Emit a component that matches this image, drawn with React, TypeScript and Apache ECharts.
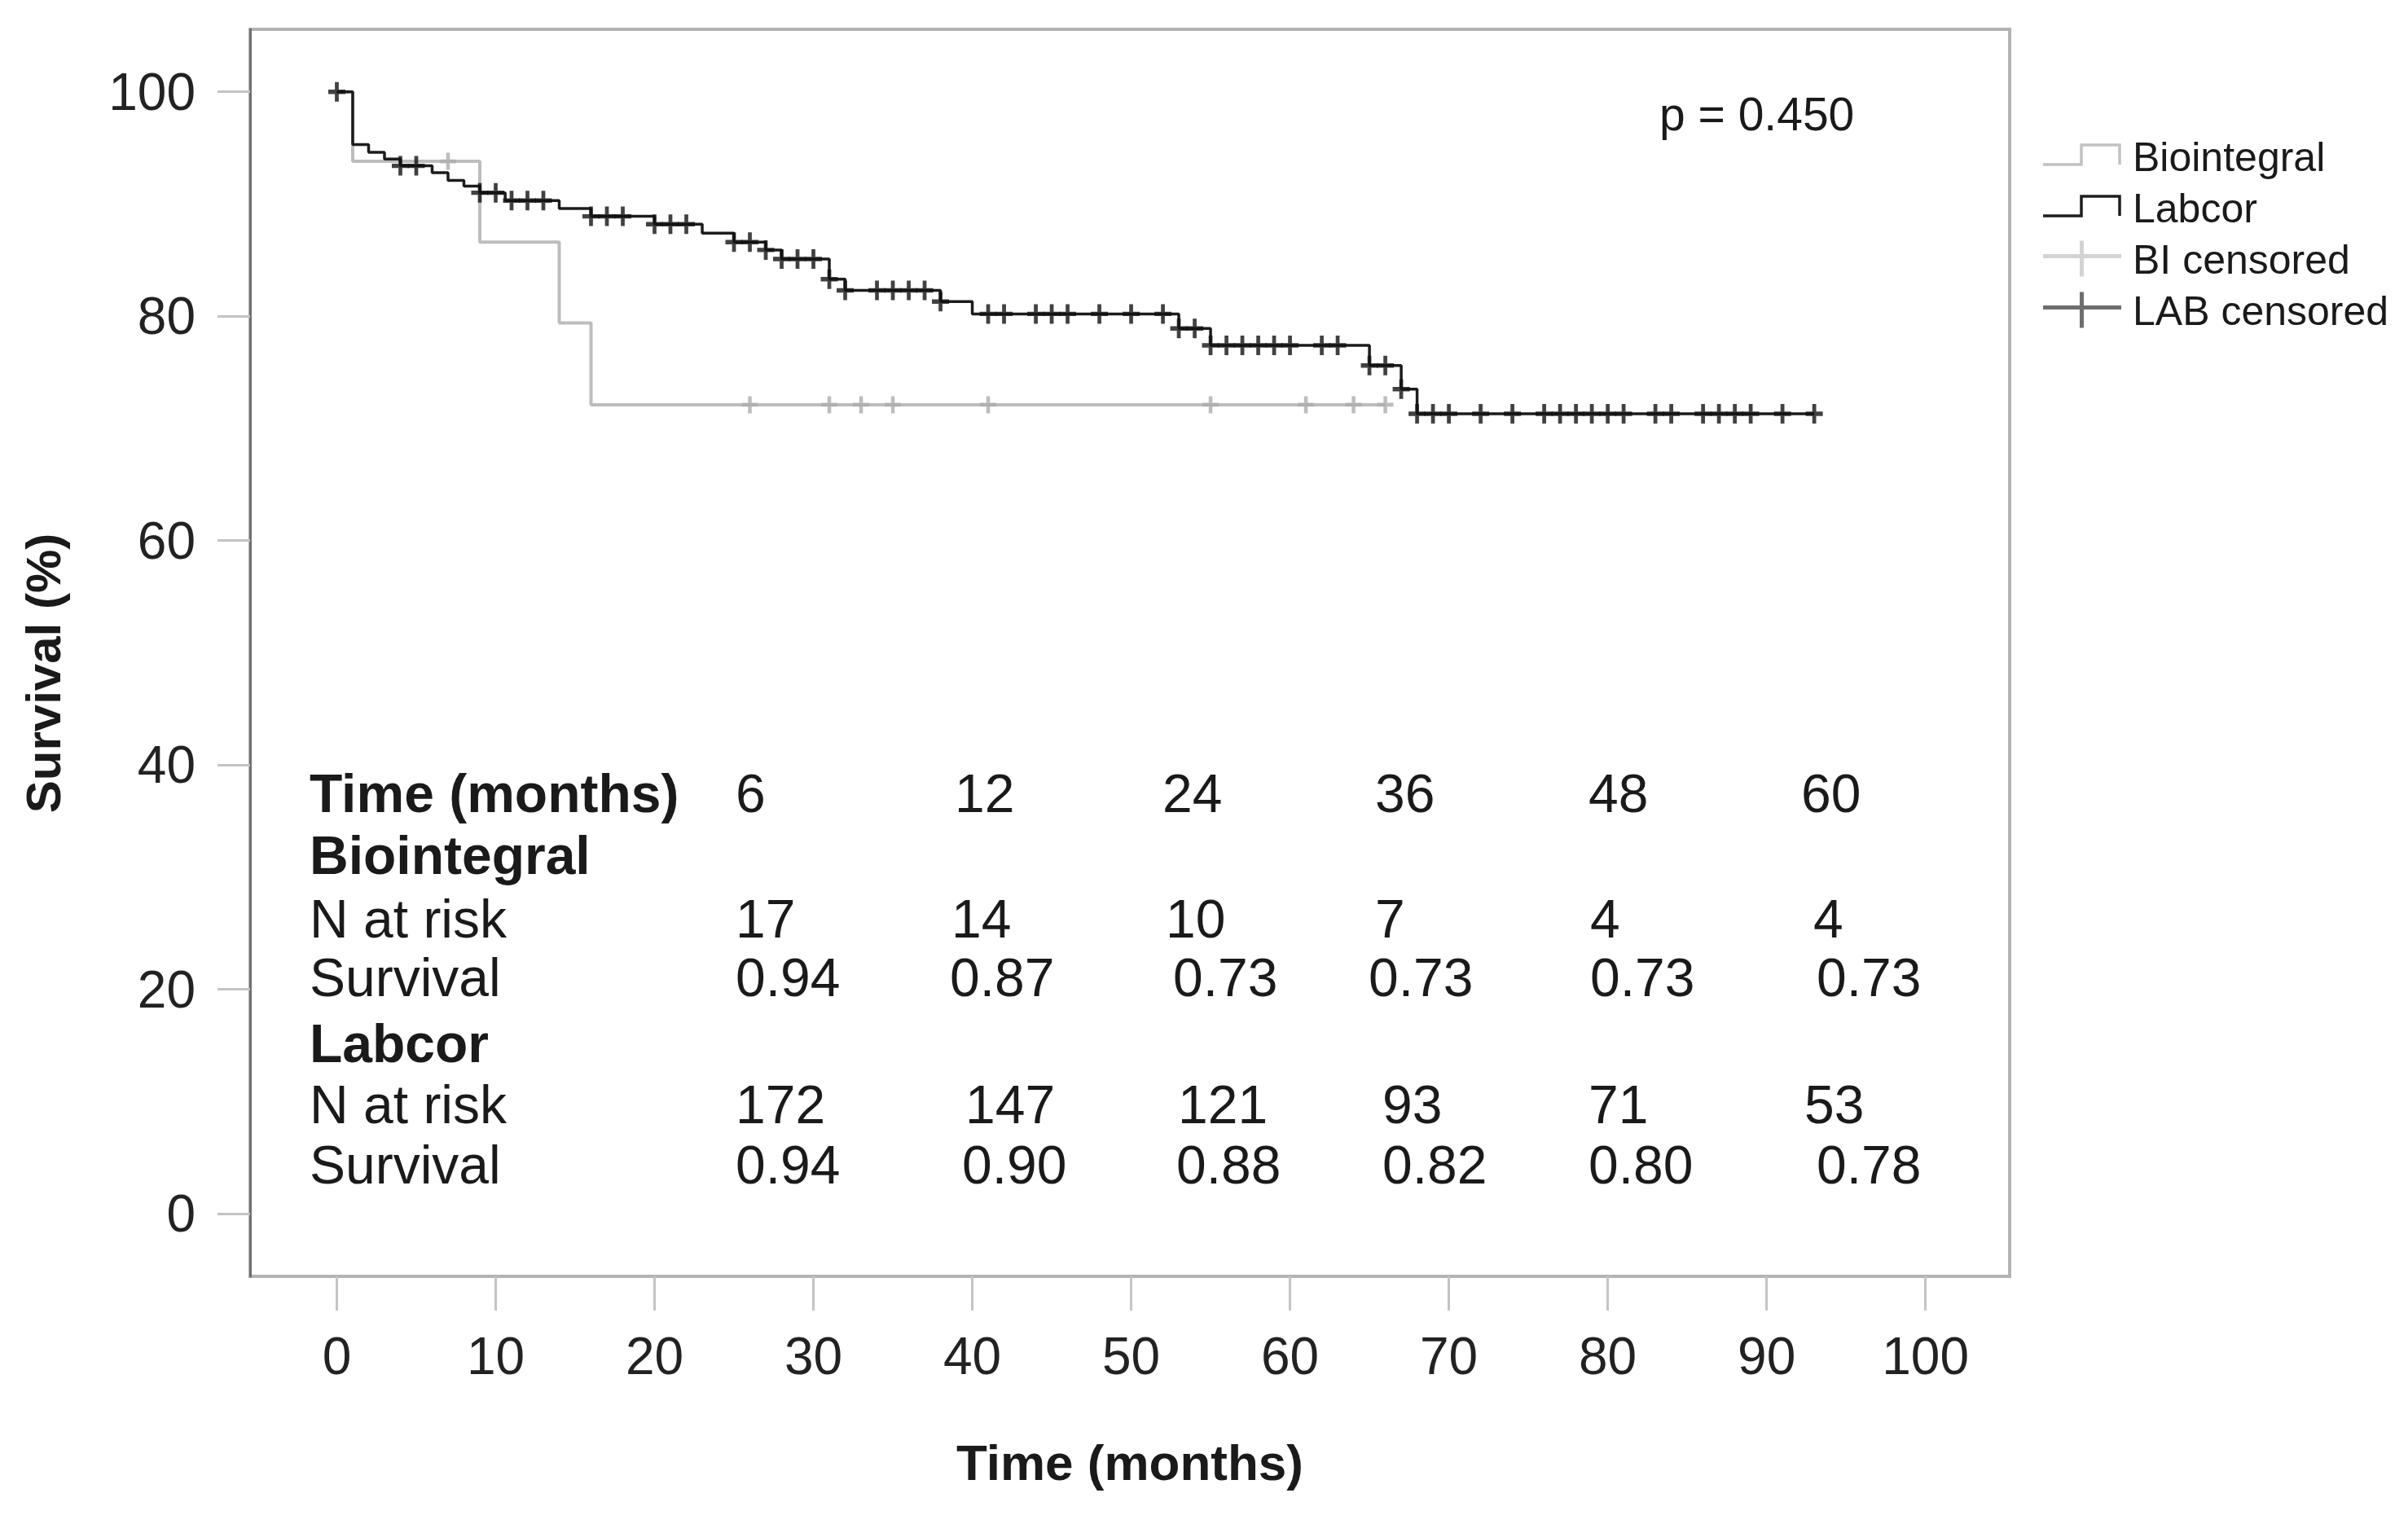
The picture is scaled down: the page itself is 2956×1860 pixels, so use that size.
import React, { useEffect, useRef } from "react";
import * as echarts from "echarts";

// ---------- data ----------
const BIO_TIMES = [0, 1, 9, 14, 16, 66];
const BIO_SURV = [100, 93.8, 86.6, 79.4, 72.1, 72.1];
const BIO_CENSORED = [7, 26, 31, 33, 35, 41, 55, 61, 64, 66];

const LAB_TIMES = [0, 1, 2, 3, 4, 6, 7, 8, 9, 10.6, 14, 16, 20, 23, 25, 27, 28, 31, 32, 38, 40, 53, 55, 65, 67, 68, 93];
const LAB_SURV = [100, 95.3, 94.6, 94.0, 93.4, 92.8, 92.1, 91.6, 91.0, 90.3, 89.6, 88.9, 88.2, 87.4, 86.6, 85.9, 85.1, 83.3, 82.3, 81.3, 80.2, 78.9, 77.4, 75.6, 73.5, 71.3, 71.3];
const LAB_CENSORED = [0, 4, 5, 9, 10, 11, 12, 13, 16, 17, 18, 20, 21, 22, 25, 26, 27, 28, 29, 30, 31, 32, 34, 35, 36, 37, 38, 41, 42, 44, 45, 46, 48, 50, 52, 53, 54, 55, 56, 57, 58, 59, 60, 62, 63, 65, 66, 67, 68, 69, 70, 72, 74, 76, 77, 78, 79, 80, 81, 83, 84, 86, 87, 88, 89, 91, 93];

const X_TICKS = [0, 10, 20, 30, 40, 50, 60, 70, 80, 90, 100];
const Y_TICKS = [0, 20, 40, 60, 80, 100];

const P_VALUE = "p = 0.450";
const TABLE_TIMES = ["6", "12", "24", "36", "48", "60"];
const BIO_RISK = ["17", "14", "10", "7", "4", "4"];
const BIO_TABLE_SURV = ["0.94", "0.87", "0.73", "0.73", "0.73", "0.73"];
const LAB_RISK = ["172", "147", "121", "93", "71", "53"];
const LAB_TABLE_SURV = ["0.94", "0.90", "0.88", "0.82", "0.80", "0.78"];

// ---------- layout ----------
const FONT = "'Liberation Sans', Arial, Helvetica, sans-serif";
const TEXT_COLOR = "#1a1a1a";
const TABLE_LEFT = 380;
const TABLE_FONT = 66;
const TABLE_ROWS_Y = [974, 1050, 1128, 1200, 1281, 1356, 1430];
const COLS_TIME = [903, 1172, 1427, 1688, 1950, 2211];
const COLS_BIO_RISK = [903, 1168, 1431, 1688, 1952, 2226];
const COLS_BIO_SURV = [903, 1166, 1440, 1680, 1952, 2230];
const COLS_LAB_RISK = [903, 1185, 1446, 1697, 1950, 2215];
const COLS_LAB_SURV = [903, 1181, 1444, 1697, 1950, 2230];

const CROSS = "path://M7.75,0H12.25V7.75H20V12.25H12.25V20H7.75V12.25H0V7.75H7.75Z";
const BOX_DOTS = "M0,0h0.05v0.05h-0.05z M104.95,46.95h0.05v0.05h-0.05z";
const STEP_ICON =
  "path://M0,30.75H45.25V6.75H95.75V32.5H92.25V10.25H48.75V34.25H0Z " + BOX_DOTS;
const CROSS_ICON =
  "path://M0,16.5H45V0H50V16.5H96V21.5H50V44H45V21.5H0Z " + BOX_DOTS;

function stepValue(times: number[], vals: number[], t: number): number {
  let v = vals[0];
  for (let i = 0; i < times.length; i++) {
    if (times[i] <= t) v = vals[i];
  }
  return v;
}

function tableText(text: string, x: number, y: number, bold = false) {
  return {
    type: "text",
    x,
    y,
    silent: true,
    style: {
      text,
      fontSize: TABLE_FONT,
      fontFamily: FONT,
      fontWeight: bold ? "bold" : "normal",
      fill: TEXT_COLOR,
      verticalAlign: "middle",
      align: "left",
    },
  };
}

function rowTexts(values: string[], cols: number[], y: number) {
  return values.map((v, i) => tableText(v, cols[i], y));
}

export default function App() {
  const ref = useRef<HTMLDivElement>(null);

  useEffect(() => {
    if (!ref.current) return;
    const chart = echarts.init(ref.current, undefined, { renderer: "svg" });

    const bioLine = BIO_TIMES.map((t, i) => [t, BIO_SURV[i]]);
    const labLine = LAB_TIMES.map((t, i) => [t, LAB_SURV[i]]);
    const bioCens = BIO_CENSORED.map((t) => [t, stepValue(BIO_TIMES, BIO_SURV, t)]);
    const labCens = LAB_CENSORED.map((t) => [t, stepValue(LAB_TIMES, LAB_SURV, t)]);

    const graphics: any[] = [
      {
        type: "text",
        x: 2037,
        y: 140,
        silent: true,
        style: {
          text: P_VALUE,
          fontSize: 57,
          fontFamily: FONT,
          fill: TEXT_COLOR,
          verticalAlign: "middle",
          align: "left",
        },
      },
      tableText("Time (months)", TABLE_LEFT, TABLE_ROWS_Y[0], true),
      ...rowTexts(TABLE_TIMES, COLS_TIME, TABLE_ROWS_Y[0]),
      tableText("Biointegral", TABLE_LEFT, TABLE_ROWS_Y[1], true),
      tableText("N at risk", TABLE_LEFT, TABLE_ROWS_Y[2]),
      ...rowTexts(BIO_RISK, COLS_BIO_RISK, TABLE_ROWS_Y[2]),
      tableText("Survival", TABLE_LEFT, TABLE_ROWS_Y[3]),
      ...rowTexts(BIO_TABLE_SURV, COLS_BIO_SURV, TABLE_ROWS_Y[3]),
      tableText("Labcor", TABLE_LEFT, TABLE_ROWS_Y[4], true),
      tableText("N at risk", TABLE_LEFT, TABLE_ROWS_Y[5]),
      ...rowTexts(LAB_RISK, COLS_LAB_RISK, TABLE_ROWS_Y[5]),
      tableText("Survival", TABLE_LEFT, TABLE_ROWS_Y[6]),
      ...rowTexts(LAB_TABLE_SURV, COLS_LAB_SURV, TABLE_ROWS_Y[6]),
    ];

    const option: any = {
      animation: false,
      backgroundColor: "#ffffff",
      textStyle: { fontFamily: FONT },
      grid: {
        left: 307,
        top: 36,
        width: 2160,
        height: 1531,
        show: true,
        borderColor: "#b3b3b3",
        borderWidth: 4,
        containLabel: false,
      },
      xAxis: {
        type: "value",
        min: -5.46,
        max: 105.3,
        axisLine: { show: false, onZero: false },
        axisTick: {
          show: true,
          customValues: X_TICKS,
          length: 42,
          inside: false,
          lineStyle: { color: "#c4c4c4", width: 3 },
        },
        axisLabel: {
          customValues: X_TICKS,
          margin: 66,
          fontSize: 64,
          color: "#222222",
          fontFamily: FONT,
        },
        splitLine: { show: false },
        name: "Time (months)",
        nameLocation: "middle",
        nameGap: 197,
        nameTextStyle: {
          fontSize: 62,
          fontWeight: "bold",
          color: TEXT_COLOR,
          fontFamily: FONT,
        },
      },
      yAxis: {
        type: "value",
        min: -5.59,
        max: 105.57,
        axisLine: { show: true, onZero: false, lineStyle: { color: "#707070", width: 3 } },
        axisTick: {
          show: true,
          customValues: Y_TICKS,
          length: 40,
          inside: false,
          lineStyle: { color: "#c4c4c4", width: 3 },
        },
        axisLabel: {
          customValues: Y_TICKS,
          margin: 67,
          fontSize: 64,
          color: "#222222",
          fontFamily: FONT,
        },
        splitLine: { show: false },
        name: "Survival (%)",
        nameLocation: "middle",
        nameGap: 224,
        nameRotate: 90,
        nameTextStyle: {
          fontSize: 60,
          fontWeight: "bold",
          color: TEXT_COLOR,
          fontFamily: FONT,
          padding: [0, 50, 0, 0],
        },
      },
      legend: {
        orient: "vertical",
        left: 2503,
        top: 163,
        itemWidth: 105,
        itemHeight: 47,
        itemGap: 13,
        selectedMode: false,
        symbolKeepAspect: false,
        textStyle: {
          fontSize: 50,
          lineHeight: 47,
          color: TEXT_COLOR,
          fontFamily: FONT,
        },
        data: [
          { name: "Biointegral", icon: STEP_ICON, itemStyle: { color: "#c2c2c2", borderWidth: 0 } },
          { name: "Labcor", icon: STEP_ICON, itemStyle: { color: "#1e1e1e", borderWidth: 0 } },
          { name: "BI censored", icon: CROSS_ICON, itemStyle: { color: "#c8c8c8", borderWidth: 0 } },
          { name: "LAB censored", icon: CROSS_ICON, itemStyle: { color: "#4a4a4a", borderWidth: 0 } },
        ],
      },
      series: [
        {
          type: "line",
          name: "Biointegral",
          step: "end",
          data: bioLine,
          symbol: "none",
          showSymbol: false,
          lineStyle: { color: "#bdbdbd", width: 4 },
          itemStyle: { color: "#bdbdbd" },
          z: 2,
        },
        {
          type: "scatter",
          name: "BI censored",
          data: bioCens,
          symbol: CROSS,
          symbolSize: [20, 21],
          itemStyle: { color: "#adadad" },
          z: 3,
        },
        {
          type: "line",
          name: "Labcor",
          step: "end",
          data: labLine,
          symbol: "none",
          showSymbol: false,
          lineStyle: { color: "#1c1c1c", width: 3.5 },
          itemStyle: { color: "#1c1c1c" },
          z: 4,
        },
        {
          type: "scatter",
          name: "LAB censored",
          data: labCens,
          symbol: CROSS,
          symbolSize: [21, 24],
          itemStyle: { color: "#111111" },
          z: 5,
        },
      ],
      graphic: graphics,
    };

    chart.setOption(option);
    return () => {
      chart.dispose();
    };
  }, []);

  return (
    <div
      ref={ref}
      style={{ position: "absolute", left: 0, top: 0, width: 2956, height: 1860 }}
    />
  );
}
